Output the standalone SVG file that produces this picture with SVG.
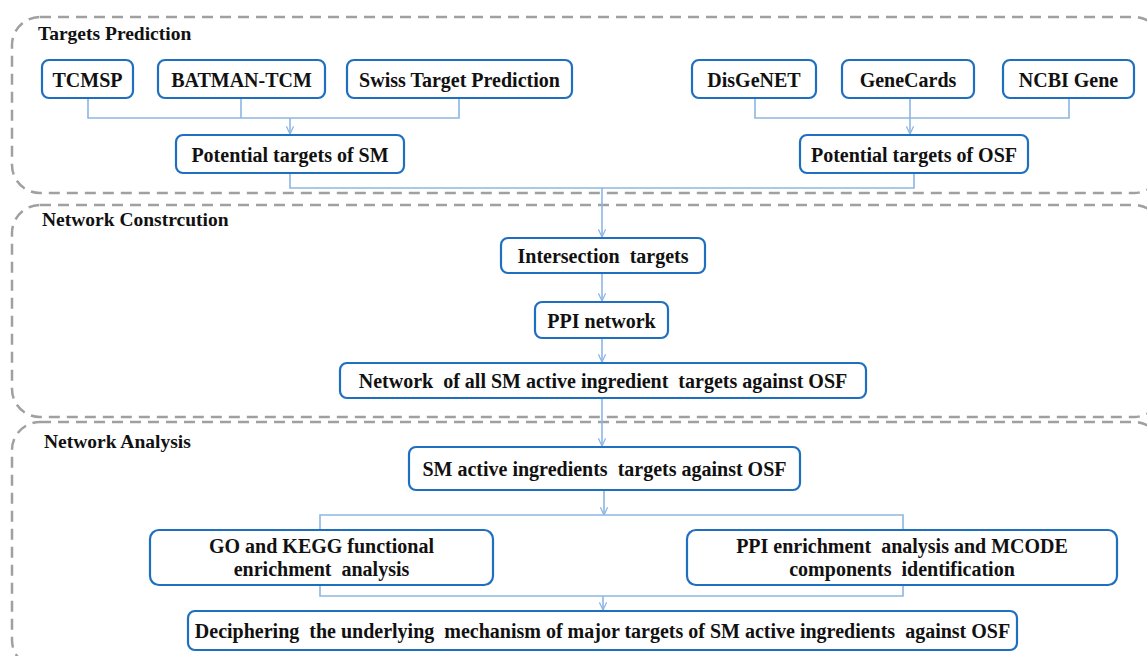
<svg xmlns="http://www.w3.org/2000/svg" width="1147" height="656" viewBox="0 0 1147 656">
<style>
.sec{fill:none;stroke:#a0a0a0;stroke-width:2.5;stroke-dasharray:11 7}
.box{fill:#ffffff;stroke:#1f6fc1;stroke-width:2.2}
.t{font-family:"Liberation Serif","Times New Roman",serif;font-weight:bold;font-size:20px;fill:#111;text-anchor:middle;white-space:pre}
.title{font-family:"Liberation Serif","Times New Roman",serif;font-weight:bold;font-size:19.5px;fill:#111}
.c{fill:none;stroke:#8db6e4;stroke-width:1.6}
.a{marker-end:url(#arr)}
</style>
<defs>
<marker id="arr" viewBox="0 0 10 10" refX="9.5" refY="5" markerWidth="9" markerHeight="9" markerUnits="userSpaceOnUse" orient="auto">
<path d="M1,1 L9.5,5 L1,9" fill="none" stroke="#8db6e4" stroke-width="1.4"/>
</marker>
</defs>
<rect width="1147" height="656" fill="#ffffff"/>

<g id="sections">
<rect class="sec" x="12" y="17" width="1150" height="176" rx="28"/>
<rect class="sec" x="12" y="205" width="1150" height="212" rx="28"/>
<rect class="sec" x="12" y="422" width="1150" height="246" rx="28"/>
<text class="title" x="38" y="40">Targets Prediction</text>
<text class="title" x="42" y="226">Network Constrcution</text>
<text class="title" x="44" y="448">Network Analysis</text>
</g>

<g id="connectors">
<polyline class="c" points="88,98 88,118 459,118 459,98"/>
<line class="c" x1="241" y1="98" x2="241" y2="118"/>
<line class="c a" x1="290" y1="118" x2="290" y2="134"/>
<polyline class="c" points="755,98 755,118 1069,118 1069,98"/>
<line class="c a" x1="910" y1="98" x2="910" y2="134"/>
<polyline class="c" points="290,173 290,188 914,188 914,173"/>
<line class="c a" x1="602" y1="188" x2="602" y2="237"/>
<line class="c a" x1="602" y1="273" x2="602" y2="301"/>
<line class="c a" x1="602" y1="338" x2="602" y2="362"/>
<line class="c a" x1="602" y1="398" x2="602" y2="446"/>
<line class="c a" x1="604" y1="490" x2="604" y2="515"/>
<polyline class="c" points="320,530 320,515 903,515 903,530"/>
<polyline class="c" points="320,585 320,596 903,596 903,585"/>
<line class="c a" x1="603" y1="596" x2="603" y2="610"/>
</g>

<g id="n-tcmsp"><rect class="box" x="42" y="60" width="91" height="38" rx="7"/><text class="t" x="87.5" y="86.5">TCMSP</text></g>
<g id="n-batman"><rect class="box" x="158" y="60" width="167" height="38" rx="7"/><text class="t" x="241.5" y="86.5">BATMAN-TCM</text></g>
<g id="n-swiss"><rect class="box" x="347" y="60" width="225" height="38" rx="7"/><text class="t" x="459.5" y="86.5">Swiss Target Prediction</text></g>
<g id="n-disgenet"><rect class="box" x="692" y="60" width="124" height="38" rx="7"/><text class="t" x="754" y="86.5">DisGeNET</text></g>
<g id="n-genecards"><rect class="box" x="842" y="60" width="132" height="38" rx="7"/><text class="t" x="908" y="86.5">GeneCards</text></g>
<g id="n-ncbi"><rect class="box" x="1003" y="60" width="131" height="38" rx="7"/><text class="t" x="1068.5" y="86.5">NCBI Gene</text></g>
<g id="n-ptsm"><rect class="box" x="176" y="135" width="228" height="38" rx="7"/><text class="t" x="290" y="161.5">Potential targets of SM</text></g>
<g id="n-ptosf"><rect class="box" x="800" y="135" width="228" height="38" rx="7"/><text class="t" x="914" y="161.5">Potential targets of OSF</text></g>
<g id="n-inter"><rect class="box" x="501" y="238" width="204" height="35" rx="7"/><text class="t" x="603" y="262.5">Intersection  targets</text></g>
<g id="n-ppi"><rect class="box" x="535" y="302" width="133" height="36" rx="7"/><text class="t" x="601.5" y="327.5">PPI network</text></g>
<g id="n-network"><rect class="box" x="340" y="363" width="526" height="35" rx="7"/><text class="t" x="603" y="387.5">Network  of all SM active ingredient  targets against OSF</text></g>
<g id="n-smactive"><rect class="box" x="409" y="447" width="391" height="43" rx="7"/><text class="t" x="604.5" y="475.5">SM active ingredients  targets against OSF</text></g>
<g id="n-go"><rect class="box" x="150" y="530" width="343" height="55" rx="9"/><text class="t" x="321.5" y="553">GO and KEGG functional</text><text class="t" x="321.5" y="576">enrichment  analysis</text></g>
<g id="n-ppienr"><rect class="box" x="687" y="530" width="430" height="55" rx="9"/><text class="t" x="902" y="553">PPI enrichment  analysis and MCODE</text><text class="t" x="902" y="576">components  identification</text></g>
<g id="n-decipher"><rect class="box" x="188" y="611" width="829" height="39" rx="7"/><text class="t" x="602.5" y="637.5">Deciphering  the underlying  mechanism of major targets of SM active ingredients  against OSF</text></g>
</svg>
